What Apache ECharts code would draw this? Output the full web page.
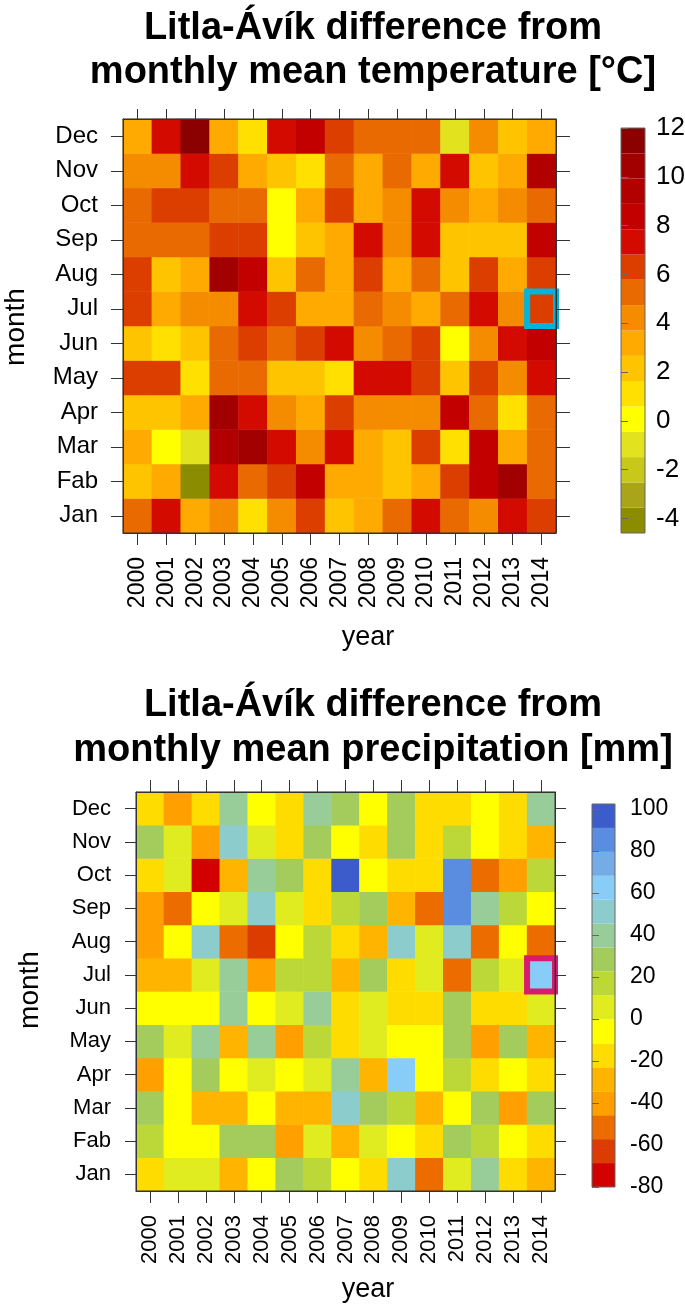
<!DOCTYPE html>
<html>
<head>
<meta charset="utf-8">
<title>Litla-Ávík</title>
<script src="https://cdn.jsdelivr.net/npm/echarts@6/dist/echarts.min.js"></script>
<style>
  html, body { margin: 0; padding: 0; background: #fff; }
  #chart { width: 685px; height: 1308px; }
</style>
</head>
<body>
<div id="chart"></div>
<script>
const years = ['2000','2001','2002','2003','2004','2005','2006','2007','2008','2009','2010','2011','2012','2013','2014'];
const months = ['Jan','Fab','Mar','Apr','May','Jun','Jul','Aug','Sep','Oct','Nov','Dec'];

// difference from monthly mean temperature [°C], rows Jan..Dec, columns 2000..2014
const tempDiff = [
  [5.3, 7.3, 3.2, 4.2, 1.1, 4.2, 6.3, 2.1, 3.2, 5.3, 7.3, 5.3, 4.2, 7.3, 6.3],   // Jan
  [2.1, 3.2, -4.1, 7.3, 5.3, 6.3, 8.4, 3.2, 3.2, 2.1, 3.2, 6.3, 8.4, 10.4, 5.3], // Fab
  [3.2, 0.0, -1.0, 9.4, 10.4, 7.3, 4.2, 7.3, 3.2, 2.1, 6.3, 1.1, 8.4, 3.2, 5.3], // Mar
  [2.1, 2.1, 3.2, 10.4, 7.3, 4.2, 3.2, 6.3, 4.2, 4.2, 4.2, 8.4, 5.3, 1.1, 5.3],  // Apr
  [6.3, 6.3, 1.1, 5.3, 5.3, 2.1, 2.1, 1.1, 7.3, 7.3, 6.3, 2.1, 6.3, 4.2, 7.3],   // May
  [2.1, 1.1, 2.1, 5.3, 6.3, 5.3, 6.3, 7.3, 4.2, 5.3, 6.3, 0.0, 4.2, 7.3, 8.4],   // Jun
  [6.3, 3.2, 4.2, 4.2, 7.3, 6.3, 3.2, 3.2, 5.3, 4.2, 3.2, 5.3, 7.3, 4.2, 6.3],   // Jul
  [6.3, 2.1, 3.2, 10.4, 8.4, 2.1, 5.3, 3.2, 6.3, 3.2, 5.3, 2.1, 6.3, 3.2, 6.3],  // Aug
  [5.3, 5.3, 5.3, 6.3, 6.3, 0.0, 2.1, 3.2, 7.3, 4.2, 7.3, 2.1, 2.1, 2.1, 8.4],   // Sep
  [5.3, 6.3, 6.3, 5.3, 5.3, 0.0, 3.2, 6.3, 3.2, 4.2, 7.3, 4.2, 3.2, 4.2, 5.3],   // Oct
  [4.2, 4.2, 7.3, 6.3, 3.2, 2.1, 1.1, 5.3, 3.2, 5.3, 3.2, 7.3, 2.1, 3.2, 9.4],   // Nov
  [3.2, 7.3, 11.5, 3.2, 1.1, 7.3, 8.4, 6.3, 5.3, 5.3, 5.3, -1.0, 4.2, 2.1, 3.2]  // Dec
];

// difference from monthly mean precipitation [mm]
const precipDiff = [
  [-17, 5, 5, -29, -6, 28, 17, -6, -17, 51, -52, 5, 40, -17, -29],       // Jan
  [17, -6, -6, 28, 28, -40, 5, -29, 5, -6, -17, 28, 17, -6, -17],        // Fab
  [28, -6, -25, -25, -6, -29, -29, 51, 28, 17, -29, -6, 28, -40, 28],    // Mar
  [-40, -6, 28, -6, 5, -6, 5, 40, -29, 62, -6, 17, -17, -6, -17],        // Apr
  [28, 5, 40, -29, 40, -40, 17, -17, 5, -6, -6, 28, -40, 28, -29],       // May
  [-6, -6, -6, 40, -6, 5, 40, -17, 5, -17, -17, 28, -17, -17, 5],        // Jun
  [-29, -29, 5, 40, -40, 17, 17, -29, 28, -17, 5, -52, 17, 5, 62],       // Jul
  [-40, -6, 51, -52, -63, -6, 20, -17, -29, 51, 5, 51, -52, -6, -52],    // Aug
  [-40, -52, -6, 5, 51, 5, -17, 17, 28, -29, -52, 85, 40, 17, -6],       // Sep
  [-17, 5, -75, -29, 40, 28, -17, 97, -6, -17, -17, 85, -52, -40, 17],   // Oct
  [28, 5, -40, 51, 5, -17, 28, -6, -17, 28, -17, 17, -6, -17, -29],      // Nov
  [-17, -40, -17, 40, -6, -17, 40, 28, -6, 28, -17, -17, -6, -17, 40]    // Dec
];

// colour key breaks and tick labels
const tempBreaks = [-4.6, -3.56, -2.53, -1.49, -0.45, 0.59, 1.63, 2.66, 3.7, 4.74, 5.78, 6.81, 7.85, 8.89, 9.93, 10.96, 12];
const tempTicks = [-4, -2, 0, 2, 4, 6, 8, 10, 12];
const precipBreaks = [-80, -68.6, -57.2, -45.8, -34.4, -23, -11.6, -0.2, 11.2, 22.6, 34, 45.4, 56.8, 68.2, 79.6, 91, 102.4];
const precipTicks = [-80, -60, -40, -20, 0, 20, 40, 60, 80, 100];

// highlighted cell
const markYear = '2014';
const markMonth = 'Jul';

const tempColors = ['#8c8c00','#aaa41a','#c8c81a','#e2e21e','#ffff00','#ffe000','#ffc400','#ffaa00',
  '#f58c00','#e86a00','#dc3e00','#d20a00','#c20000','#b20000','#a20000','#8b0000'];
const precipColors = ['#d20000','#dc3c00','#ec6c00','#ffa000','#ffb400','#ffdc00','#ffff00','#e0ec20',
  '#bcd838','#a4cc5c','#98cc98','#8ccccc','#88ccf8','#74ace6','#5a8ce0','#3c5ccc'];

const FONT = 'Liberation Sans, Arial, Helvetica, sans-serif';

function cells(rows) {
  const out = [];
  rows.forEach((row, m) => row.forEach((v, y) => out.push([y, m, v])));
  return out;
}
function bands(breaks) {
  const out = [];
  for (let i = 0; i < breaks.length - 1; i++) out.push([0, breaks[i], breaks[i + 1]]);
  return out;
}
function pieces(breaks, colors) {
  return colors.map((c, i) => ({ gte: breaks[i], lt: breaks[i + 1], color: c }));
}
function bandItem(colors) {
  return function (params, api) {
    const lo = api.coord([0, api.value(1)]);
    const hi = api.coord([1, api.value(2)]);
    return {
      type: 'rect',
      shape: { x: lo[0], y: hi[1], width: hi[0] - lo[0], height: lo[1] - hi[1] },
      style: { fill: colors[params.dataIndex] }
    };
  };
}
function boxItem(color) {
  return function (params, api) {
    const c = api.coord([api.value(0), api.value(1)]);
    const s = api.size([1, 1]);
    return {
      type: 'rect',
      shape: { x: c[0] - s[0] / 2, y: c[1] - s[1] / 2, width: s[0], height: s[1] },
      style: { fill: 'none', stroke: color, lineWidth: 6 }
    };
  };
}

function catX(grid, pos, tickLen, showLabel, fontSize) {
  return {
    type: 'category', gridIndex: grid, data: years, position: pos, z: 10,
    axisLine: { show: true, lineStyle: { color: '#333', width: 1 } },
    axisTick: { show: true, alignWithLabel: true, length: tickLen, lineStyle: { color: '#333' } },
    axisLabel: { show: showLabel, interval: 0, rotate: 90, fontSize: fontSize, margin: 24, color: '#000', fontFamily: FONT },
    splitLine: { show: false }, splitArea: { show: false }
  };
}
function catY(grid, pos, tickLen, showLabel, fontSize) {
  return {
    type: 'category', gridIndex: grid, data: months, position: pos, z: 10,
    axisLine: { show: true, lineStyle: { color: '#333', width: 1 } },
    axisTick: { show: true, alignWithLabel: true, length: tickLen, lineStyle: { color: '#333' } },
    axisLabel: { show: showLabel, interval: 0, fontSize: fontSize, margin: 25, color: '#000', fontFamily: FONT },
    splitLine: { show: false }, splitArea: { show: false }
  };
}
function keyX(grid) {
  return { type: 'value', gridIndex: grid, min: 0, max: 1, show: false };
}
function keyY(grid, breaks, ticks, fontSize, margin) {
  return {
    type: 'value', gridIndex: grid, position: 'right', min: breaks[0], max: breaks[breaks.length - 1], z: 10,
    axisLine: { show: false },
    axisTick: { show: true, length: 7, customValues: ticks, lineStyle: { color: '#666' } },
    axisLabel: { show: true, customValues: ticks, fontSize: fontSize, margin: margin, color: '#000', fontFamily: FONT },
    splitLine: { show: false }
  };
}

function txt(text, x, y, size, bold, rot) {
  return {
    type: 'text', x: x, y: y, rotation: rot || 0,
    style: { text: text, fill: '#000', font: (bold ? 'bold ' : '') + size + 'px ' + FONT, align: 'center', verticalAlign: 'middle' }
  };
}

const chart = echarts.init(document.getElementById('chart'), null, { renderer: 'canvas' });

const gridBase = { show: true, z: 10, backgroundColor: 'transparent', borderColor: '#333', borderWidth: 1, containLabel: false, outerBoundsMode: 'none' };

const option = {
  animation: false,
  backgroundColor: '#fff',
  grid: [
    Object.assign({}, gridBase, { left: 123, top: 119, width: 433, height: 414 }),
    Object.assign({}, gridBase, { left: 621, top: 128, width: 24, height: 405, borderColor: '#666' }),
    Object.assign({}, gridBase, { left: 136, top: 792, width: 419, height: 399 }),
    Object.assign({}, gridBase, { left: 592, top: 804, width: 23, height: 383, borderColor: '#666' })
  ],
  xAxis: [
    catX(0, 'bottom', 12, true, 23),
    catX(0, 'top', 10, false, 23),
    keyX(1),
    catX(2, 'bottom', 12, true, 22),
    catX(2, 'top', 12, false, 22),
    keyX(3)
  ],
  yAxis: [
    catY(0, 'left', 12, true, 24),
    catY(0, 'right', 14, false, 24),
    keyY(1, tempBreaks, tempTicks, 26, 11),
    catY(2, 'left', 11, true, 22),
    catY(2, 'right', 11, false, 22),
    keyY(3, precipBreaks, precipTicks, 23, 15)
  ],
  visualMap: [
    { type: 'piecewise', show: false, seriesIndex: 0, dimension: 2, pieces: pieces(tempBreaks, tempColors) },
    { type: 'piecewise', show: false, seriesIndex: 3, dimension: 2, pieces: pieces(precipBreaks, precipColors) }
  ],
  series: [
    { type: 'heatmap', xAxisIndex: 0, yAxisIndex: 0, data: cells(tempDiff), emphasis: { disabled: true }, progressive: 0 },
    { type: 'custom', xAxisIndex: 0, yAxisIndex: 0, z: 5, renderItem: boxItem('#00b4dc'),
      data: [[years.indexOf(markYear), months.indexOf(markMonth)]] },
    { type: 'custom', xAxisIndex: 2, yAxisIndex: 2, renderItem: bandItem(tempColors), data: bands(tempBreaks) },
    { type: 'heatmap', xAxisIndex: 3, yAxisIndex: 3, data: cells(precipDiff), emphasis: { disabled: true }, progressive: 0 },
    { type: 'custom', xAxisIndex: 3, yAxisIndex: 3, z: 5, renderItem: boxItem('#d81b6a'),
      data: [[years.indexOf(markYear), months.indexOf(markMonth)]] },
    { type: 'custom', xAxisIndex: 5, yAxisIndex: 5, renderItem: bandItem(precipColors), data: bands(precipBreaks) }
  ],
  graphic: [
    txt('Litla-Ávík difference from', 373, 29, 38, true),
    txt('monthly mean temperature [°C]', 373, 73, 38, true),
    txt('month', 16, 327, 28, false, Math.PI / 2),
    txt('year', 368, 638, 27, false),
    txt('Litla-Ávík difference from', 373, 706, 38, true),
    txt('monthly mean precipitation [mm]', 373, 751, 38, true),
    txt('month', 30, 990, 28, false, Math.PI / 2),
    txt('year', 368, 1290, 27, false)
  ]
};

chart.setOption(option);
</script>
</body>
</html>
